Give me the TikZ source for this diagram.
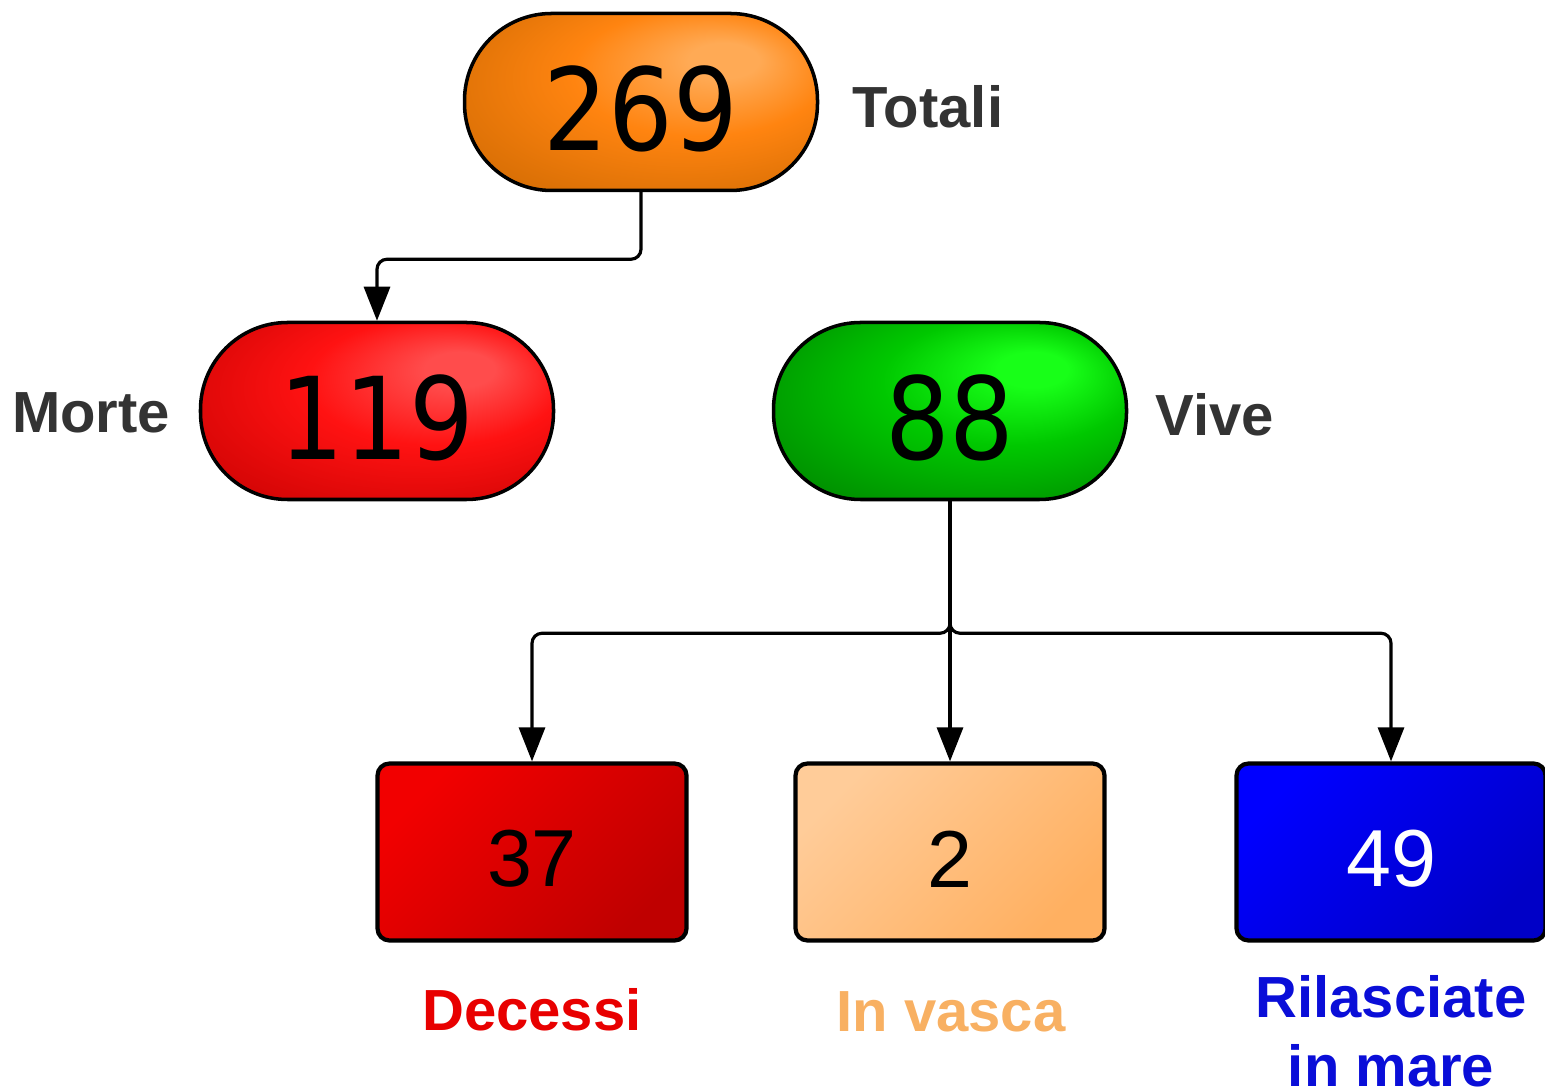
\documentclass[tikz,border=0pt]{standalone}
\usepackage{fontspec}
\setmainfont{Liberation Sans}
\newfontfamily\numfont[FakeStretch=0.89]{DejaVu Sans}
\usetikzlibrary{arrows.meta}
\definecolor{totlight}{HTML}{FFAA55}
\definecolor{totmid}{HTML}{FF8410}
\definecolor{totdark}{HTML}{C86600}
\definecolor{morlight}{HTML}{FF4C4C}
\definecolor{mormid}{HTML}{FF1212}
\definecolor{mordark}{HTML}{C20000}
\definecolor{vivlight}{HTML}{18FF18}
\definecolor{vivmid}{HTML}{00C800}
\definecolor{vivdark}{HTML}{007800}
\definecolor{tagdark}{HTML}{333333}
\definecolor{decred}{HTML}{E80000}
\definecolor{vasorange}{HTML}{F8B062}
\definecolor{rilblue}{HTML}{0A0ED8}
\pgfdeclareradialshading{totglow}{\pgfpoint{13bp}{13bp}}{color(0bp)=(totlight); color(5bp)=(totlight); color(18bp)=(totmid); color(42bp)=(totdark); color(50bp)=(totdark)}
\pgfdeclareradialshading{morglow}{\pgfpoint{13bp}{13bp}}{color(0bp)=(morlight); color(5bp)=(morlight); color(18bp)=(mormid); color(42bp)=(mordark); color(50bp)=(mordark)}
\pgfdeclareradialshading{vivglow}{\pgfpoint{13bp}{13bp}}{color(0bp)=(vivlight); color(5bp)=(vivlight); color(18bp)=(vivmid); color(42bp)=(vivdark); color(50bp)=(vivdark)}
\begin{document}
\begin{tikzpicture}[
  pill/.style={draw=black, line width=1pt, shade, rounded corners=0.87cm, minimum width=3.53cm, minimum height=1.77cm, text height=0.98cm, font=\numfont\fontsize{32.5}{36}\selectfont},
  box/.style={draw=black, line width=1.2pt, rounded corners=0.12cm, minimum width=3.09cm, minimum height=1.77cm, text height=0.70cm, font=\fontsize{23}{26}\selectfont},
  fade/.style 2 args={left color=#1, right color=#2, shading angle=45},
  tag/.style={font=\fontsize{16.5}{19.5}\selectfont\bfseries},
  link/.style={line width=0.9pt, rounded corners=0.1cm, -{Triangle[length=3.4mm,width=2.6mm]}}
]
\useasboundingbox (0,0) rectangle (15.45,10.91);
\node[pill, shading=totglow] (tot) at (6.41,9.89) {269};
\node[pill, shading=morglow] (mor) at (3.77,6.80) {119};
\node[pill, shading=vivglow] (viv) at (9.50,6.80) {88};
\node[box, fade={red!95!black}{red!75!black}] (dec) at (5.32,2.39) {37};
\node[box, fade={orange!40!white}{orange!62!white}] (vas) at (9.50,2.39) {2};
\node[box, fade={blue}{blue!78!black}, text=white] (ril) at (13.91,2.39) {49};
\node[tag, text=tagdark] (totlab) at (9.28,9.84) {Totali};
\node[tag, text=tagdark] (morlab) at (0.91,6.78) {Morte};
\node[tag, text=tagdark] (vivlab) at (12.15,6.76) {Vive};
\node[tag, text=decred] (declab) at (5.32,0.81) {Decessi};
\node[tag, text=vasorange] (vaslab) at (9.51,0.79) {In vasca};
\node[tag, text=rilblue, align=center] (rillab) at (13.91,0.60) {Rilasciate\\in mare};
\draw[link] (tot.south) -- ++(0,-0.67) -| (mor.north);
\draw[link] (viv.south) -- ++(0,-1.32) -| (dec.north);
\draw[link] (viv.south) -- (vas.north);
\draw[link] (viv.south) -- ++(0,-1.32) -| (ril.north);
\end{tikzpicture}
\end{document}
